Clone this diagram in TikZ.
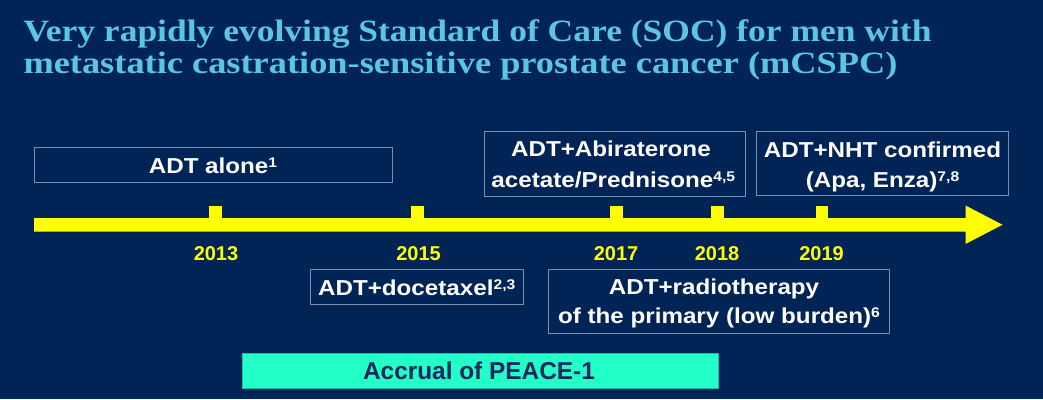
\documentclass[tikz,border=0pt]{standalone}
\usepackage{fontspec}
\usepackage{graphicx}
\setmainfont{Liberation Sans}
\newfontfamily\boxfont[FakeStretch=1.12]{Liberation Sans}
\newfontfamily\titlefont{Liberation Serif}
\definecolor{bg}{RGB}{0,36,86}
\definecolor{titlec}{RGB}{92,196,228}
\definecolor{boxline}{RGB}{125,142,172}
\definecolor{peace}{RGB}{34,255,200}
\definecolor{peaceline}{RGB}{20,190,160}
\definecolor{peacetext}{RGB}{22,40,92}
\definecolor{tl}{RGB}{255,255,0}
\newcommand{\spr}[1]{\raisebox{6pt}{\fontsize{14}{14}\selectfont #1}}
\begin{document}
\begin{tikzpicture}[x=1pt,y=-1pt,
  frame/.style={draw=boxline, line width=0.9pt, inner sep=0pt, anchor=north west},
  lbl/.style={inner sep=0pt, anchor=base, text=white, font=\boxfont\bfseries\fontsize{21.6}{26}\selectfont},
  yr/.style={inner sep=0pt, anchor=base, text=tl, font=\bfseries\fontsize{20}{24}\selectfont},
  ttl/.style={inner sep=0pt, anchor=base west, text=titlec, font=\titlefont\bfseries\fontsize{31}{34}\selectfont},
  tick/.style={fill=tl}]
\fill[bg] (0,0) rectangle (1043,399);
\useasboundingbox (0,0) rectangle (1043,399);

% title
\node[ttl] (t1) at (23.3,41.7) {\resizebox{908pt}{\height}{Very rapidly evolving Standard of Care (SOC) for men with}};
\node[ttl] (t2) at (23.3,73.3) {\resizebox{874pt}{\height}{metastatic castration-sensitive prostate cancer (mCSPC)}};

% timeline arrow
\fill[tl] (34,218) -- (965.5,218) -- (965.5,205.5) -- (1002.5,224.75) -- (965.5,244) -- (965.5,231.5) -- (34,231.5) -- cycle;
\fill[tick] (209,205.7) rectangle (222,219);
\fill[tick] (411,205.7) rectangle (424,219);
\fill[tick] (610,205.7) rectangle (622.5,219);
\fill[tick] (711,205.7) rectangle (724,219);
\fill[tick] (815.7,205.7) rectangle (828,219);

% years
\node[yr] (y13) at (216,260) {2013};
\node[yr] (y15) at (418.5,260) {2015};
\node[yr] (y17) at (616,260) {2017};
\node[yr] (y18) at (717,260) {2018};
\node[yr] (y19) at (821.5,260) {2019};

% boxes
\node[frame, minimum width=357.7pt, minimum height=34.4pt] (b1) at (34,147.3) {};
\node[lbl] (b1t) at (213,173.3) {ADT alone\spr{1}};

\node[frame, minimum width=261pt, minimum height=64.7pt] (b2) at (484,131) {};
\node[lbl] (b2a) at (610.9,156.7) {ADT+Abiraterone};
\node[lbl] (b2b) at (613.3,187.3) {acetate/Prednisone\spr{4,5}};

\node[frame, minimum width=252.3pt, minimum height=64pt] (b3) at (756,131) {};
\node[lbl] (b3a) at (882.5,157.3) {ADT+NHT confirmed};
\node[lbl] (b3b) at (882.5,187.3) {(Apa, Enza)\spr{7,8}};

\node[frame, minimum width=212.7pt, minimum height=35pt] (b4) at (310,268.7) {};
\node[lbl] (b4t) at (416.7,295.3) {ADT+docetaxel\spr{2,3}};

\node[frame, minimum width=341pt, minimum height=64pt] (b5) at (548.3,268.7) {};
\node[lbl] (b5a) at (714,294.7) {ADT+radiotherapy};
\node[lbl] (b5b) at (719,323.7) {of the primary (low burden)\spr{6}};

% PEACE-1 accrual
\node[draw=peaceline, fill=peace, line width=0.8pt, inner sep=0pt, anchor=north west, minimum width=476pt, minimum height=34.4pt] (pc) at (242.3,353.3) {};
\node[inner sep=0pt, anchor=base, text=peacetext, font=\bfseries\fontsize{24.4}{28}\selectfont] (pct) at (479,379.3) {Accrual of PEACE-1};
\end{tikzpicture}
\end{document}
